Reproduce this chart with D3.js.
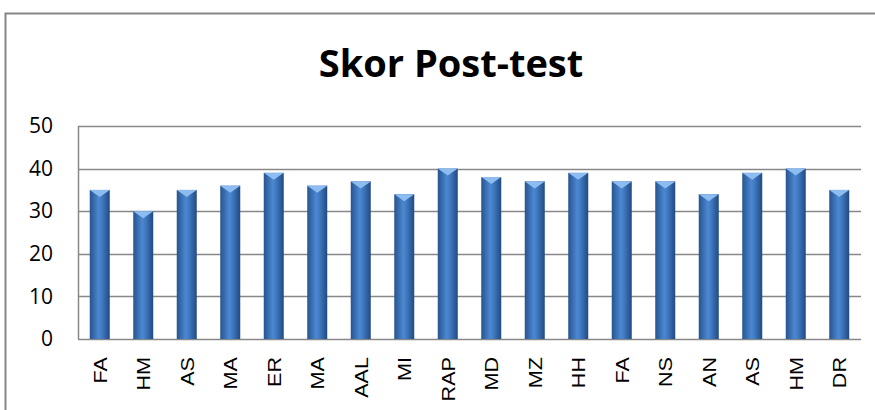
<!DOCTYPE html>
<html>
<head>
<style>
body { margin: 0; background: #fff; }
</style>
</head>
<body>
<svg width="875" height="410"></svg>
<script src="https://cdn.jsdelivr.net/npm/d3@7"></script>
<script>

// data
var names = ["FA", "HM", "AS", "MA", "ER", "MA", "AAL", "MI", "RAP", "MD", "MZ", "HH", "FA", "NS", "AN", "AS", "HM", "DR"];
var scores = [35, 30, 35, 36, 39, 36, 37, 34, 40, 38, 37, 39, 37, 37, 34, 39, 40, 35];
var yTicks = [0, 10, 20, 30, 40, 50];

var svg = d3.select("svg");
var rows = names.map(function(n, i) { return { i: i, name: n, v: scores[i] }; });

var plot = { left: 78, right: 861, top: 126, bottom: 339 };

var x = d3.scaleBand()
    .domain(d3.range(names.length))
    .range([plot.left, plot.right])
    .paddingInner(0.54)
    .paddingOuter(0.27);

var y = d3.scaleLinear().domain([0, 50]).range([plot.bottom, plot.top]);

// gradient for the bars
var defs = svg.append("defs");
var grad = defs.append("linearGradient").attr("id", "barGrad")
    .attr("x1", 0).attr("x2", 1).attr("y1", 0).attr("y2", 0);
grad.append("stop").attr("offset", "0%").attr("stop-color", "#26548f");
grad.append("stop").attr("offset", "45%").attr("stop-color", "#4c88d2");
grad.append("stop").attr("offset", "60%").attr("stop-color", "#417bc4");
grad.append("stop").attr("offset", "100%").attr("stop-color", "#224a80");

// outer chart border
svg.append("rect")
    .attr("x", 5.5).attr("y", 13.5)
    .attr("width", 900).attr("height", 420)
    .attr("fill", "none")
    .attr("stroke", "#868686")
    .attr("stroke-width", 2);

// title
svg.append("text")
    .attr("x", 451).attr("y", 77)
    .attr("text-anchor", "middle")
    .style("font-family", "'Open Sans', sans-serif")
    .style("font-weight", "bold")
    .style("font-size", "38px")
    .text("Skor Post-test");

// gridlines
svg.append("g").selectAll("line")
    .data(yTicks)
  .enter().append("line")
    .attr("x1", plot.left).attr("x2", plot.right)
    .attr("y1", function(d) { return Math.round(y(d)) + 0.5; })
    .attr("y2", function(d) { return Math.round(y(d)) + 0.5; })
    .attr("stroke", "#888")
    .attr("stroke-width", 1.5);

svg.append("line")
    .attr("x1", plot.left + 0.5).attr("x2", plot.left + 0.5)
    .attr("y1", plot.top).attr("y2", plot.bottom)
    .attr("stroke", "#888").attr("stroke-width", 1.5);

// y axis labels
var yAxis = d3.axisLeft(y).tickValues(yTicks).tickSize(0).tickPadding(25);
svg.append("g")
    .attr("transform", "translate(" + plot.left + ",0)")
    .call(yAxis)
    .call(function(g) { g.select(".domain").remove(); })
    .selectAll("text")
    .style("font-family", "'Open Sans', sans-serif")
    .style("font-size", "21px")
    .attr("fill", "#000");

// bars
var bars = svg.append("g").selectAll("g")
    .data(rows)
  .enter().append("g");

bars.append("rect")
    .attr("x", function(d) { return x(d.i); })
    .attr("y", function(d) { return y(d.v); })
    .attr("width", x.bandwidth())
    .attr("height", function(d) { return y(0) - y(d.v); })
    .attr("fill", "url(#barGrad)");

// light cap on top of each bar
bars.append("path")
    .attr("d", function(d) {
      var x0 = x(d.i), w = x.bandwidth(), t = y(d.v);
      return "M" + x0 + "," + t + "L" + (x0 + w) + "," + t +
             "L" + (x0 + w / 2) + "," + (t + 7) + "Z";
    })
    .attr("fill", "#8cbcf0");

// x labels (stretched along the text like the source)
svg.append("g").selectAll("text")
    .data(rows)
  .enter().append("text")
    .attr("transform", function(d) {
      return "translate(" + (x(d.i) + x.bandwidth() / 2 + 7) + ",357) rotate(-90) scale(1.2,1)";
    })
    .attr("text-anchor", "end")
    .style("font-family", "'Liberation Sans', Arial, sans-serif")
    .style("font-size", "18px")
    .text(function(d) { return d.name; });

</script>
</body>
</html>
